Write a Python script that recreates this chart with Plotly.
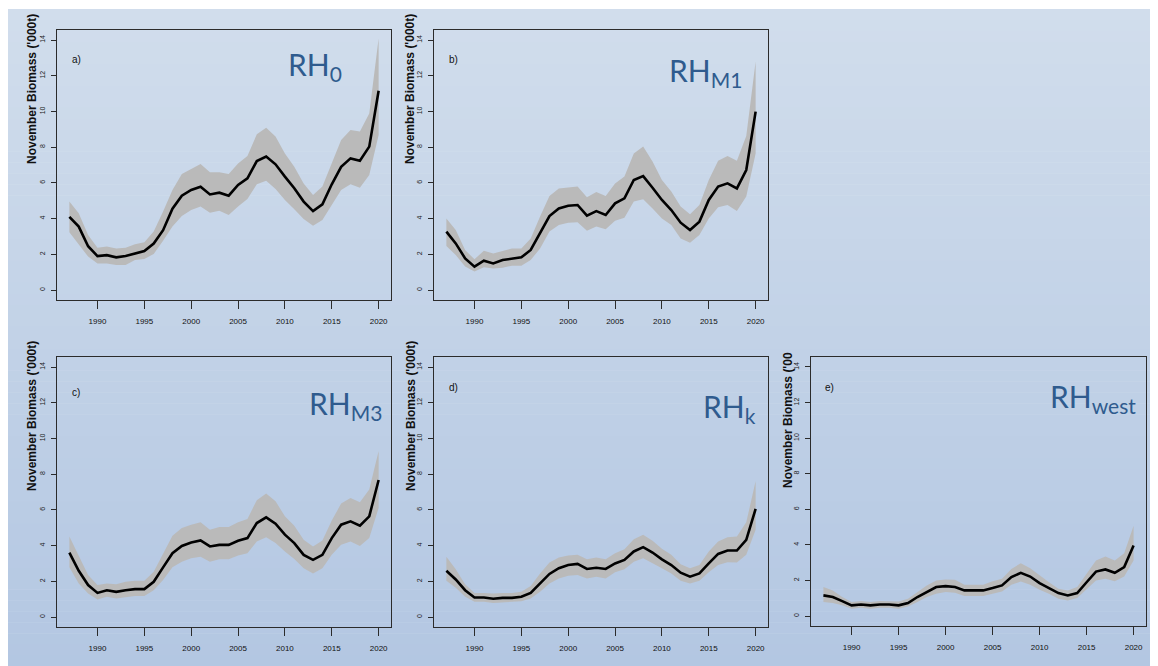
import plotly.graph_objects as go

# ---------------- data ----------------
years = list(range(1987, 2021))

rh0_mean = [4.10, 3.55, 2.45, 1.90, 1.95, 1.83, 1.90, 2.05, 2.18, 2.60, 3.35, 4.55, 5.28, 5.60, 5.78, 5.35, 5.45, 5.28, 5.88, 6.25, 7.22, 7.47, 7.04, 6.35, 5.70, 4.95, 4.42, 4.80, 5.92, 6.90, 7.37, 7.24, 8.03, 11.16]
rh0_hi   = [4.95, 4.30, 3.08, 2.37, 2.43, 2.33, 2.37, 2.56, 2.67, 3.27, 4.39, 5.60, 6.50, 6.80, 7.06, 6.59, 6.59, 6.50, 7.09, 7.50, 8.72, 9.09, 8.59, 7.65, 6.90, 5.97, 5.32, 5.79, 7.09, 8.40, 8.96, 8.87, 9.89, 14.10]
rh0_lo   = [3.23, 2.52, 1.87, 1.49, 1.49, 1.40, 1.40, 1.68, 1.74, 2.02, 2.76, 3.55, 4.14, 4.48, 4.67, 4.33, 4.44, 4.20, 4.67, 5.10, 5.92, 6.12, 5.66, 5.04, 4.52, 3.98, 3.60, 3.92, 4.76, 5.60, 5.92, 5.73, 6.44, 8.68]

rhm1_mean = [3.27, 2.61, 1.77, 1.31, 1.64, 1.49, 1.68, 1.77, 1.83, 2.24, 3.17, 4.14, 4.57, 4.72, 4.76, 4.16, 4.42, 4.20, 4.85, 5.13, 6.16, 6.38, 5.73, 5.04, 4.48, 3.77, 3.36, 3.83, 5.04, 5.79, 5.97, 5.69, 6.72, 9.99]
rhm1_hi   = [4.01, 3.36, 2.24, 1.72, 2.20, 2.05, 2.18, 2.33, 2.33, 2.89, 4.11, 5.26, 5.69, 5.75, 5.79, 5.19, 5.49, 5.26, 5.97, 6.35, 7.65, 8.03, 7.19, 6.16, 5.51, 4.67, 4.24, 4.76, 6.16, 7.24, 7.50, 7.24, 8.62, 12.79]
rhm1_lo   = [2.46, 1.96, 1.31, 1.03, 1.27, 1.21, 1.25, 1.36, 1.36, 1.68, 2.33, 3.27, 3.64, 3.77, 3.79, 3.32, 3.55, 3.40, 3.88, 4.05, 4.95, 5.08, 4.57, 4.01, 3.64, 2.89, 2.65, 3.08, 4.01, 4.63, 4.76, 4.42, 5.23, 7.65]

rhm3_mean = [3.61, 2.59, 1.79, 1.35, 1.50, 1.41, 1.50, 1.56, 1.56, 1.97, 2.78, 3.57, 3.98, 4.17, 4.29, 3.95, 4.04, 4.04, 4.27, 4.42, 5.26, 5.58, 5.23, 4.61, 4.14, 3.48, 3.20, 3.48, 4.42, 5.17, 5.36, 5.11, 5.64, 7.67]
rhm3_hi   = [4.51, 3.38, 2.35, 1.79, 1.88, 1.84, 1.97, 2.03, 2.03, 2.54, 3.57, 4.55, 4.98, 5.17, 5.30, 4.89, 5.04, 5.04, 5.30, 5.49, 6.54, 6.92, 6.48, 5.64, 5.11, 4.32, 3.95, 4.29, 5.41, 6.35, 6.67, 6.43, 7.14, 9.30]
rhm3_lo   = [2.78, 1.88, 1.32, 0.98, 1.13, 1.03, 1.09, 1.17, 1.18, 1.50, 2.07, 2.78, 3.10, 3.29, 3.38, 3.10, 3.23, 3.23, 3.44, 3.57, 4.23, 4.47, 4.14, 3.67, 3.25, 2.73, 2.44, 2.73, 3.48, 4.04, 4.23, 3.98, 4.42, 6.11]

rhk_mean = [2.59, 2.10, 1.50, 1.09, 1.09, 1.02, 1.07, 1.07, 1.13, 1.35, 1.88, 2.41, 2.73, 2.91, 2.97, 2.69, 2.76, 2.69, 3.00, 3.20, 3.67, 3.91, 3.61, 3.23, 2.91, 2.48, 2.26, 2.44, 3.00, 3.53, 3.72, 3.72, 4.32, 6.05]
rhk_hi   = [3.38, 2.67, 1.84, 1.35, 1.35, 1.32, 1.35, 1.35, 1.41, 1.73, 2.44, 3.05, 3.33, 3.44, 3.48, 3.23, 3.33, 3.23, 3.57, 3.80, 4.36, 4.61, 4.27, 3.82, 3.48, 2.95, 2.73, 2.91, 3.67, 4.23, 4.47, 4.51, 5.30, 7.61]
rhk_lo   = [2.03, 1.64, 1.13, 0.85, 0.85, 0.79, 0.81, 0.85, 0.88, 1.03, 1.41, 1.88, 2.16, 2.31, 2.35, 2.16, 2.26, 2.16, 2.50, 2.67, 3.10, 3.29, 3.00, 2.73, 2.44, 2.03, 1.88, 2.03, 2.50, 2.91, 3.06, 3.05, 3.48, 4.89]

rhw_mean = [1.16, 1.07, 0.84, 0.60, 0.65, 0.60, 0.65, 0.65, 0.60, 0.73, 1.07, 1.35, 1.63, 1.68, 1.63, 1.44, 1.44, 1.44, 1.57, 1.72, 2.19, 2.43, 2.22, 1.85, 1.57, 1.29, 1.16, 1.29, 1.90, 2.50, 2.62, 2.43, 2.75, 3.96]
rhw_hi   = [1.63, 1.44, 1.07, 0.79, 0.84, 0.79, 0.84, 0.84, 0.82, 0.97, 1.35, 1.72, 2.00, 2.06, 2.04, 1.76, 1.76, 1.76, 1.96, 2.09, 2.65, 2.97, 2.69, 2.28, 1.90, 1.53, 1.44, 1.63, 2.37, 3.12, 3.35, 3.12, 3.53, 5.08]
rhw_lo   = [0.79, 0.73, 0.60, 0.41, 0.47, 0.41, 0.47, 0.47, 0.41, 0.54, 0.79, 1.07, 1.25, 1.35, 1.31, 1.12, 1.12, 1.12, 1.25, 1.38, 1.76, 1.94, 1.76, 1.48, 1.25, 0.97, 0.88, 1.01, 1.53, 2.00, 2.09, 1.96, 2.22, 3.12]

panel_letters = ["a)", "b)", "c)", "d)", "e)"]
panel_names = ["RH<sub>0</sub>", "RH<sub>M1</sub>", "RH<sub>M3</sub>", "RH<sub>k</sub>", "RH<sub>west</sub>"]
x_ticks = [1990, 1995, 2000, 2005, 2010, 2015, 2020]
y_ticks = [0, 2, 4, 6, 8, 10, 12, 14]
y_title = "November Biomass ('000t)"
y_title_e = "November Biomass ('00"

series = [
    (rh0_mean, rh0_lo, rh0_hi),
    (rhm1_mean, rhm1_lo, rhm1_hi),
    (rhm3_mean, rhm3_lo, rhm3_hi),
    (rhk_mean, rhk_lo, rhk_hi),
    (rhw_mean, rhw_lo, rhw_hi),
]

# ---------------- layout geometry (screen pixels) ----------------
# the page body has an 8px margin, so the figure starts at (8, 8)
OFF = 8
W, H = 1150, 658
boxes = [
    (57, 391, 30, 300),
    (434, 768, 30, 300),
    (57, 391, 357, 627),
    (434, 768, 357, 627),
    (811, 1146, 357, 626),
]
ytitle_pos = [(32, 166), (410, 166), (32, 493), (411, 493), (788, 490)]
letter_pos = [(70, 60), (447, 60), (70, 392), (447, 387), (823, 387)]
name_pos = [(344, 66), (744, 72), (384, 405), (758, 408), (1138, 398)]

def px(x):
    return (x - OFF) / W

def py(y):
    return 1 - (y - OFF) / H

fig = go.Figure()

# gradient slide background
top_c = (209, 221, 236)
bot_c = (179, 199, 226)
n = 60
y_start = 9
shapes = []
for i in range(n):
    t = i / (n - 1)
    c = tuple(round(top_c[k] + (bot_c[k] - top_c[k]) * t) for k in range(3))
    ya = y_start + (OFF + H - y_start) * i / n
    yb = y_start + (OFF + H - y_start) * (i + 1) / n + 0.5
    shapes.append(dict(type="rect", xref="paper", yref="paper",
                       x0=0, x1=1, y0=max(py(yb), 0), y1=py(ya),
                       fillcolor="rgb(%d,%d,%d)" % c, line=dict(width=0),
                       layer="below"))

annotations = []
layout_axes = {}
for i, ((m, lo, hi), box) in enumerate(zip(series, boxes)):
    k = "" if i == 0 else str(i + 1)
    xa, ya_ = "x" + k, "y" + k
    fig.add_trace(go.Scatter(
        x=years + years[::-1], y=hi + lo[::-1], fill="toself",
        fillcolor="rgb(186,186,186)", line=dict(width=0), mode="lines",
        hoverinfo="skip", showlegend=False, xaxis=xa, yaxis=ya_))
    fig.add_trace(go.Scatter(
        x=years, y=m, mode="lines", line=dict(color="black", width=2.6),
        showlegend=False, xaxis=xa, yaxis=ya_))
    l, r, t, b = box
    layout_axes["xaxis" + k] = dict(
        domain=[px(l), px(r)], range=[1985.68, 2021.32], anchor=ya_,
        tickvals=x_ticks, ticktext=[str(v) for v in x_ticks],
        ticks="outside", ticklen=8, tickwidth=1.2, tickcolor="#2b2b2b",
        showline=True, linecolor="#2b2b2b", linewidth=1.3, mirror=True,
        showgrid=False, zeroline=False, ticklabelstandoff=5,
        tickfont=dict(family="Liberation Sans", size=8, color="#111"))
    layout_axes["yaxis" + k] = dict(
        domain=[py(b), py(t)], range=[-0.56, 14.56], anchor=xa,
        tickvals=y_ticks, ticks="outside", ticklen=5, tickwidth=1.2, tickcolor="#2b2b2b",
        showline=True, linecolor="#2b2b2b", linewidth=1.3, mirror=True,
        showgrid=False, zeroline=False, tickangle=-90, ticklabelstandoff=3,
        tickfont=dict(family="Liberation Sans", size=7, color="#222"))
    tx, tb = ytitle_pos[i]
    annotations.append(dict(
        text="<b>" + (y_title_e if i == 4 else y_title) + "</b>",
        xref="paper", yref="paper", x=px(tx), y=py(tb),
        xanchor="center", yanchor="bottom", textangle=-90, showarrow=False,
        font=dict(family="Liberation Sans", size=12, color="#111")))
    lx, ly = letter_pos[i]
    annotations.append(dict(
        text=panel_letters[i], xref="paper", yref="paper", x=px(lx), y=py(ly),
        xanchor="left", yanchor="middle", showarrow=False,
        font=dict(family="Liberation Sans", size=10, color="#111")))
    nx, ny = name_pos[i]
    annotations.append(dict(
        text=panel_names[i], xref="paper", yref="paper", x=px(nx), y=py(ny),
        xanchor="right", yanchor="middle", showarrow=False,
        font=dict(family="Lato, Open Sans, sans-serif", size=30, color="#2f5b8e")))

fig.update_layout(
    width=W, height=H, margin=dict(l=0, r=0, t=0, b=0),
    paper_bgcolor="white", plot_bgcolor="rgba(0,0,0,0)",
    shapes=shapes, annotations=annotations, showlegend=False,
    **layout_axes)

fig.write_html("out.html")
